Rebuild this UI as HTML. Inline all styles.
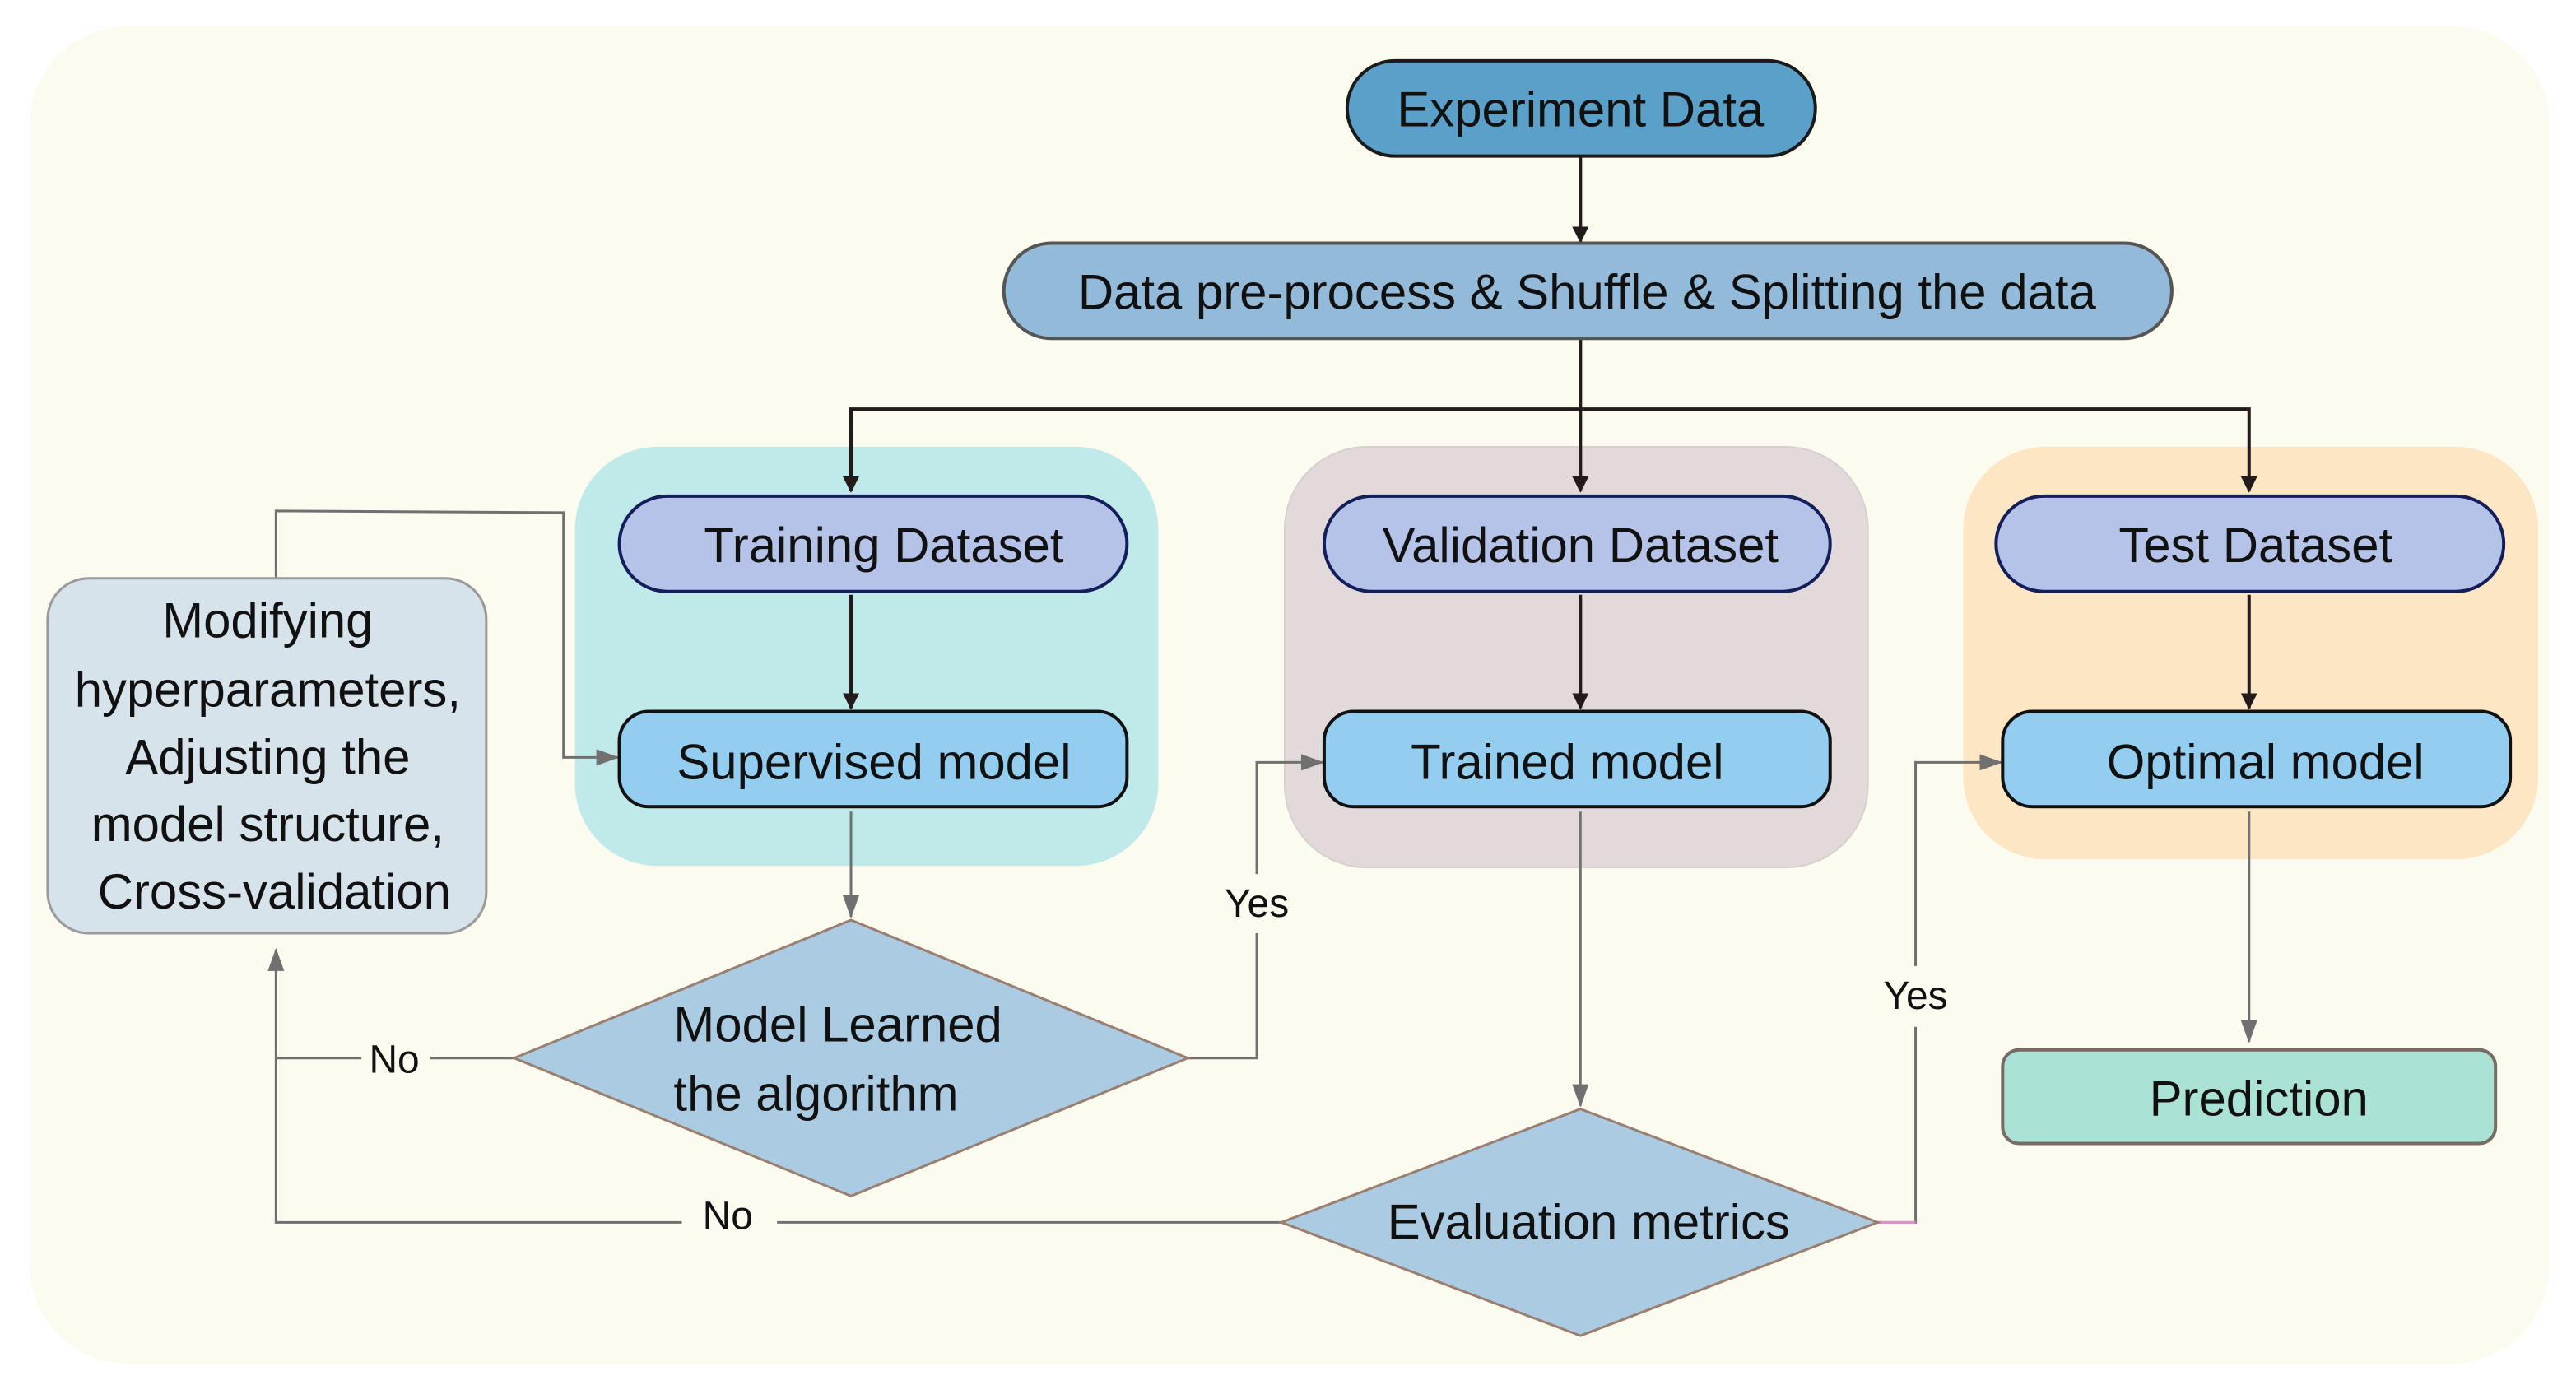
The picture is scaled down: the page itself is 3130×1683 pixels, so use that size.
<!DOCTYPE html>
<html><head><meta charset="utf-8"><style>html,body{margin:0;padding:0;background:#fff}svg{display:block}text{font-family:"Liberation Sans",sans-serif;fill:#111}</style></head>
<body>
<svg width="3130" height="1683" viewBox="0 0 1568 843" preserveAspectRatio="none" xmlns="http://www.w3.org/2000/svg">
<defs>
<marker id="ab" markerWidth="10" markerHeight="10" refX="9" refY="5" orient="auto" markerUnits="userSpaceOnUse"><path d="M0,0 L10,5 L0,10 z" fill="#231a1a"/></marker>
<marker id="ag" markerWidth="14" markerHeight="10" refX="13" refY="5" orient="auto" markerUnits="userSpaceOnUse"><path d="M0,0 L14,5 L0,10 z" fill="#707070"/></marker>
</defs>
<rect x="18" y="16" width="1534" height="814" rx="60" fill="#fbfbef"/>
<rect x="350" y="272" width="355" height="255" rx="50" fill="#c0e9ea"/>
<rect x="782" y="272" width="355" height="256" rx="50" fill="#e2dada" stroke="#d8d0d0"/>
<rect x="1195" y="272" width="350" height="251" rx="50" fill="#fde6c4"/>
<g fill="none" stroke="#231a1a" stroke-width="2">
<line x1="962" y1="95" x2="962" y2="147" marker-end="url(#ab)"/>
<line x1="962" y1="206" x2="962" y2="299" marker-end="url(#ab)"/>
<polyline points="518,299 518,249 1369,249 1369,299" marker-end="url(#ab)"/>
<line x1="518" y1="249" x2="518" y2="299" marker-end="url(#ab)"/>
<line x1="518" y1="362" x2="518" y2="431" marker-end="url(#ab)"/>
<line x1="962" y1="362" x2="962" y2="431" marker-end="url(#ab)"/>
<line x1="1369" y1="362" x2="1369" y2="431" marker-end="url(#ab)"/>
</g>
<g fill="none" stroke="#707070" stroke-width="1.5">
<line x1="518" y1="494" x2="518" y2="558" marker-end="url(#ag)"/>
<line x1="962" y1="494" x2="962" y2="673" marker-end="url(#ag)"/>
<line x1="1369" y1="494" x2="1369" y2="634" marker-end="url(#ag)"/>
<polyline points="168,352 168,311 343,312 343,461 376,461" marker-end="url(#ag)"/>
<polyline points="313,644 262,644"/><polyline points="220,644 168,644"/>
<polyline points="415,744 168,744 168,578" marker-end="url(#ag)"/>
<polyline points="780,744 473,744"/>
<polyline points="723,644 765,644 765,568"/><polyline points="765,532 765,464 805,464" marker-end="url(#ag)"/>
<polyline points="1143,744 1166,744 1166,625"/><polyline points="1166,588 1166,464 1218,464" marker-end="url(#ag)"/>
</g>
<line x1="1143" y1="744" x2="1166" y2="744" stroke="#e090d0" stroke-width="1.5"/>
<rect x="820" y="37" width="285" height="58" rx="29" fill="#5aa0c8" stroke="#1a1a1a" stroke-width="2"/>
<text x="962" y="77" font-size="30" text-anchor="middle">Experiment Data</text>
<rect x="611" y="148" width="711" height="58" rx="29" fill="#94bad9" stroke="#555" stroke-width="2"/>
<text x="966" y="188" font-size="30" text-anchor="middle">Data pre-process &amp; Shuffle &amp; Splitting the data</text>
<rect x="377" y="302" width="309" height="58" rx="29" fill="#b5c3e8" stroke="#141e5a" stroke-width="2"/>
<text x="538" y="342" font-size="30" text-anchor="middle">Training Dataset</text>
<rect x="806" y="302" width="308" height="58" rx="29" fill="#b5c3e8" stroke="#141e5a" stroke-width="2"/>
<text x="962" y="342" font-size="30" text-anchor="middle">Validation Dataset</text>
<rect x="1215" y="302" width="309" height="58" rx="29" fill="#b5c3e8" stroke="#141e5a" stroke-width="2"/>
<text x="1373" y="342" font-size="30" text-anchor="middle">Test Dataset</text>
<rect x="377" y="433" width="309" height="58" rx="18" fill="#93cdf0" stroke="#111" stroke-width="2"/>
<text x="532" y="474" font-size="30" text-anchor="middle">Supervised model</text>
<rect x="806" y="433" width="308" height="58" rx="18" fill="#93cdf0" stroke="#111" stroke-width="2"/>
<text x="954" y="474" font-size="30" text-anchor="middle">Trained model</text>
<rect x="1219" y="433" width="309" height="58" rx="18" fill="#93cdf0" stroke="#111" stroke-width="2"/>
<text x="1379" y="474" font-size="30" text-anchor="middle">Optimal model</text>
<rect x="1219" y="639" width="300" height="57" rx="10" fill="#aae3d6" stroke="#776b63" stroke-width="2"/>
<text x="1375" y="679" font-size="30" text-anchor="middle">Prediction</text>
<rect x="29" y="352" width="267" height="216" rx="25" fill="#d6e3ea" stroke="#9a9a9a" stroke-width="1.5"/>
<g font-size="30" text-anchor="middle">
<text x="163" y="388">Modifying</text>
<text x="163" y="430">hyperparameters,</text>
<text x="163" y="471">Adjusting the</text>
<text x="163" y="512">model structure,</text>
<text x="167" y="553">Cross-validation</text>
</g>
<polygon points="313,644 518,560 723,644 518,728" fill="#abcbe3" stroke="#9a7f70" stroke-width="1.5"/>
<text x="410" y="634" font-size="30">Model Learned</text>
<text x="410" y="676" font-size="30">the algorithm</text>
<polygon points="780,744 962,675 1143,744 962,813" fill="#abcbe3" stroke="#9a7f70" stroke-width="1.5"/>
<text x="967" y="754" font-size="30" text-anchor="middle">Evaluation metrics</text>
<g font-size="24" text-anchor="middle">
<text x="240" y="653">No</text>
<text x="443" y="748">No</text>
<text x="765" y="558">Yes</text>
<text x="1166" y="614">Yes</text>
</g>
</svg>
</body></html>
